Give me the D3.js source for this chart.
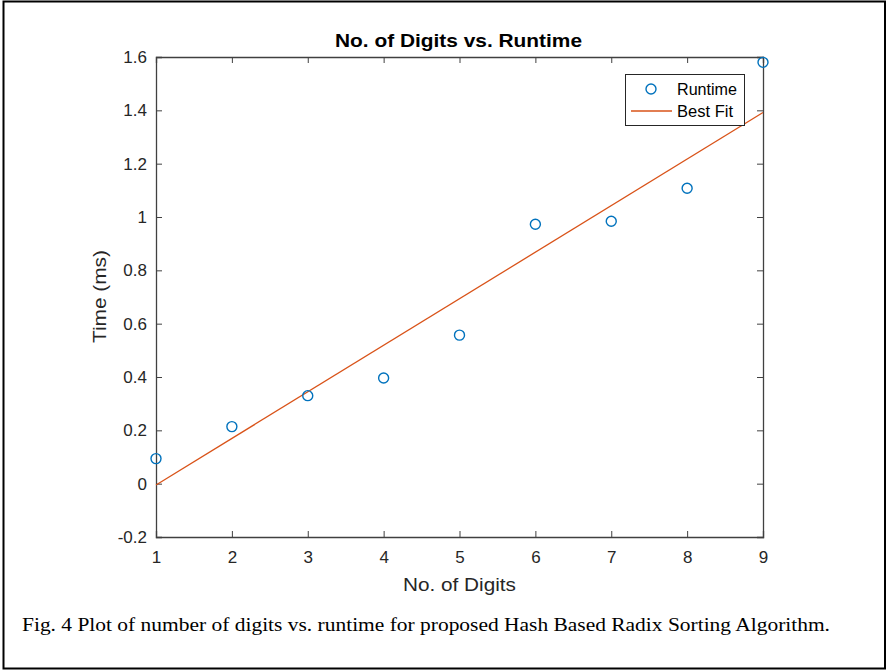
<!DOCTYPE html>
<html>
<head>
<meta charset="utf-8">
<script src="https://cdn.jsdelivr.net/npm/d3@7"></script>
<style>
  body { margin: 0; background: #fff; }
  svg { display: block; }
</style>
</head>
<body>
<div id="vis"></div>
<script>
// data
let digits = [1, 2, 3, 4, 5, 6, 7, 8, 9];
let runtime = [0.094, 0.214, 0.330, 0.396, 0.557, 0.973, 0.984, 1.108, 1.580];
let fitX = [1, 9];
let fitY = [-0.005, 1.392];
let xTicks = [1, 2, 3, 4, 5, 6, 7, 8, 9];
let yTicks = [-0.2, 0, 0.2, 0.4, 0.6, 0.8, 1, 1.2, 1.4, 1.6];

let W = 887, H = 671;
let margin = { top: 57, left: 156, right: 124, bottom: 134 },
  width = W - margin.left - margin.right,
  height = H - margin.top - margin.bottom;

let axisColor = '#404040';
let blue = '#0072BD', orange = '#D95319';
let sans = 'Liberation Sans, Arial, sans-serif';

let svg = d3.select('#vis')
  .append('svg')
  .attr('width', W)
  .attr('height', H);

// outer frame
svg.append('rect')
  .attr('x', 3.5).attr('y', 1.5)
  .attr('width', 881.5).attr('height', 667)
  .attr('fill', 'none')
  .attr('stroke', '#000')
  .attr('stroke-width', 2);

let xScale = d3.scaleLinear().domain([1, 9]).range([0, width]),
  yScale = d3.scaleLinear().domain([-0.2, 1.6]).range([height, 0]);

let g = svg.append('g')
  .attr('transform', 'translate(' + margin.left + ',' + margin.top + ')');

let fmt = d => String(+d.toFixed(1));

// axes, ticks inward, box on all sides
let xb = g.append('g')
  .attr('transform', 'translate(0,' + height + ')')
  .call(d3.axisBottom(xScale).tickValues(xTicks).tickSize(-6).tickPadding(14).tickFormat(fmt));
let xt = g.append('g')
  .call(d3.axisTop(xScale).tickValues(xTicks).tickSize(-6).tickFormat(''));
let yl = g.append('g')
  .call(d3.axisLeft(yScale).tickValues(yTicks).tickSize(-6).tickPadding(9).tickFormat(fmt));
let yr = g.append('g')
  .attr('transform', 'translate(' + width + ',0)')
  .call(d3.axisRight(yScale).tickValues(yTicks).tickSize(-6).tickFormat(''));

[xb, xt, yl, yr].forEach(a => {
  a.select('.domain').attr('stroke', axisColor).attr('stroke-width', 1.3);
  a.selectAll('.tick line').attr('stroke', axisColor).attr('stroke-width', 1);
  a.selectAll('.tick text')
    .attr('fill', '#262626')
    .style('font-family', sans)
    .style('font-size', '17px');
});

// best fit line
g.append('path')
  .datum(fitX.map((x, i) => [x, fitY[i]]))
  .attr('fill', 'none')
  .attr('stroke', orange)
  .attr('stroke-width', 1.3)
  .attr('d', d3.line().x(d => xScale(d[0])).y(d => yScale(d[1])));

// runtime markers
g.append('g')
  .selectAll('circle')
  .data(digits.map((x, i) => [x, runtime[i]]))
  .enter()
  .append('circle')
  .attr('cx', d => xScale(d[0]))
  .attr('cy', d => yScale(d[1]))
  .attr('r', 5)
  .attr('fill', 'none')
  .attr('stroke', blue)
  .attr('stroke-width', 1.4);

// title
svg.append('text')
  .attr('x', 335)
  .attr('y', 47)
  .attr('textLength', 247)
  .attr('lengthAdjust', 'spacingAndGlyphs')
  .style('font-family', sans)
  .style('font-weight', 'bold')
  .style('font-size', '19px')
  .attr('fill', '#000')
  .text('No. of Digits vs. Runtime');

// x label
svg.append('text')
  .attr('x', 403)
  .attr('y', 591)
  .attr('textLength', 113)
  .attr('lengthAdjust', 'spacingAndGlyphs')
  .style('font-family', sans)
  .style('font-size', '18px')
  .attr('fill', '#262626')
  .text('No. of Digits');

// y label
svg.append('text')
  .attr('transform', 'translate(106,343)rotate(-90)')
  .attr('textLength', 93)
  .attr('lengthAdjust', 'spacingAndGlyphs')
  .style('font-family', sans)
  .style('font-size', '18px')
  .attr('fill', '#262626')
  .text('Time (ms)');

// legend
let lg = svg.append('g');
lg.append('rect')
  .attr('x', 625.5).attr('y', 74.5)
  .attr('width', 119).attr('height', 51)
  .attr('fill', '#fff')
  .attr('stroke', '#262626')
  .attr('stroke-width', 1);
lg.append('circle')
  .attr('cx', 651).attr('cy', 89).attr('r', 5)
  .attr('fill', 'none').attr('stroke', blue).attr('stroke-width', 1.4);
lg.append('line')
  .attr('x1', 631).attr('x2', 672).attr('y1', 111).attr('y2', 111)
  .attr('stroke', orange).attr('stroke-width', 1.3);
lg.selectAll('text.leg')
  .data(['Runtime', 'Best Fit'])
  .enter()
  .append('text')
  .attr('x', 677)
  .attr('y', (d, i) => 95 + i * 22)
  .attr('textLength', (d, i) => i ? 56 : 60)
  .attr('lengthAdjust', 'spacingAndGlyphs')
  .style('font-family', sans)
  .style('font-size', '16px')
  .attr('fill', '#000')
  .text(d => d);

// caption
svg.append('text')
  .attr('x', 22)
  .attr('y', 631)
  .attr('textLength', 808)
  .attr('lengthAdjust', 'spacingAndGlyphs')
  .style('font-family', 'Liberation Serif, Times New Roman, serif')
  .style('font-size', '19px')
  .attr('fill', '#000')
  .text('Fig. 4 Plot of number of digits vs. runtime for proposed Hash Based Radix Sorting Algorithm.');
</script>
</body>
</html>
